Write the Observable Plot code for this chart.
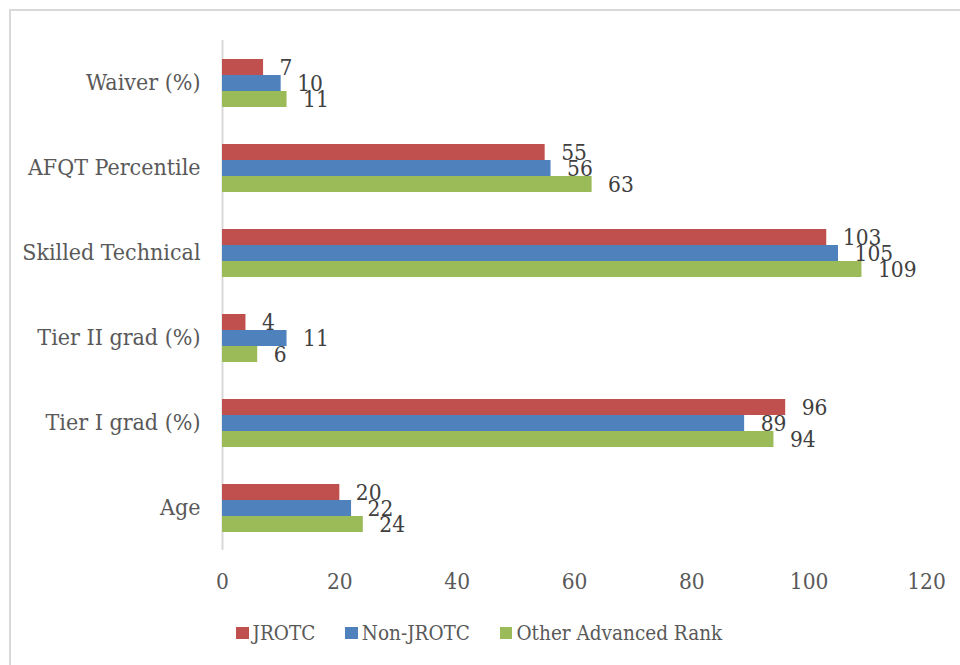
<!DOCTYPE html>
<html>
<head>
<meta charset="utf-8">
<script src="https://cdn.jsdelivr.net/npm/d3@7"></script>
<script src="https://cdn.jsdelivr.net/npm/@observablehq/plot@0.6"></script>
<style>
  body { margin: 0; background: #fff; font-family: "DejaVu Serif Condensed", "DejaVu Serif", serif; font-stretch: condensed; }
  #frame { position: absolute; left: 9px; top: 9px; width: 2000px; height: 2000px;
           border: 2px solid #d9d9d9; pointer-events: none; }
  #chart svg { display: block; color: #595959; font-family: "DejaVu Serif Condensed", "DejaVu Serif", serif; font-stretch: condensed; }
  .legend { display: flex; align-items: center; height: 46px; padding-left: 236px; gap: 30px;
            font-size: 20.5px; color: #595959; }
  .legend .item { display: flex; align-items: center; }
  .legend .swatch { width: 12.5px; height: 12.5px; margin-right: 4px; display: inline-block; }
</style>
</head>
<body>
<div id="frame"></div>
<div id="chart"></div>
<script>
// Recruit characteristics by group
const categories = ["Waiver (%)", "AFQT Percentile", "Skilled Technical", "Tier II grad (%)", "Tier I grad (%)", "Age"];
const series = ["JROTC", "Non-JROTC", "Other Advanced Rank"];
const seriesColors = ["#C0504D", "#4F81BD", "#9BBB59"];
const jrotc = [7, 55, 103, 4, 96, 20];
const nonJrotc = [10, 56, 105, 11, 89, 22];
const otherAdvanced = [11, 63, 109, 6, 94, 24];
const xTicks = [0, 20, 40, 60, 80, 100, 120];

const valuesBySeries = [jrotc, nonJrotc, otherAdvanced];
const data = [];
categories.forEach((category, i) => {
  series.forEach((s, j) => data.push({category, series: s, value: valuesBySeries[j][i]}));
});

const chart = Plot.plot({
  width: 960,
  height: 610,
  marginLeft: 222,
  marginRight: 34,
  marginTop: 40,
  marginBottom: 60,
  x: {domain: [0, 120]},
  fy: {domain: categories, padding: 0},
  y: {domain: series, paddingInner: 0, paddingOuter: 1.1, axis: null},
  color: {domain: series, range: seriesColors},
  marks: [
    Plot.ruleX([0], {stroke: "#d9d9d9", strokeWidth: 2}),
    Plot.axisFy({anchor: "left", tickSize: 0, tickPadding: 22, fontSize: 23, label: null}),
    Plot.axisX({anchor: "bottom", ticks: xTicks, tickSize: 0, tickPadding: 23, fontSize: 22.5, label: null}),
    Plot.barX(data, {x: "value", y: "series", fy: "category", fill: "series"}),
    Plot.text(data, {
      x: "value", y: "series", fy: "category",
      text: d => String(d.value),
      dx: 16, textAnchor: "start", fontSize: 22.5, fill: "#404040"
    })
  ]
});
document.getElementById("chart").appendChild(chart);

// Legend below the chart
const legend = d3.select("#chart").append("div").attr("class", "legend");
const items = legend.selectAll(".item").data(series).join("div").attr("class", "item");
items.append("span").attr("class", "swatch").style("background", (d, i) => seriesColors[i]);
items.append("span").text(d => d);
</script>
</body>
</html>
